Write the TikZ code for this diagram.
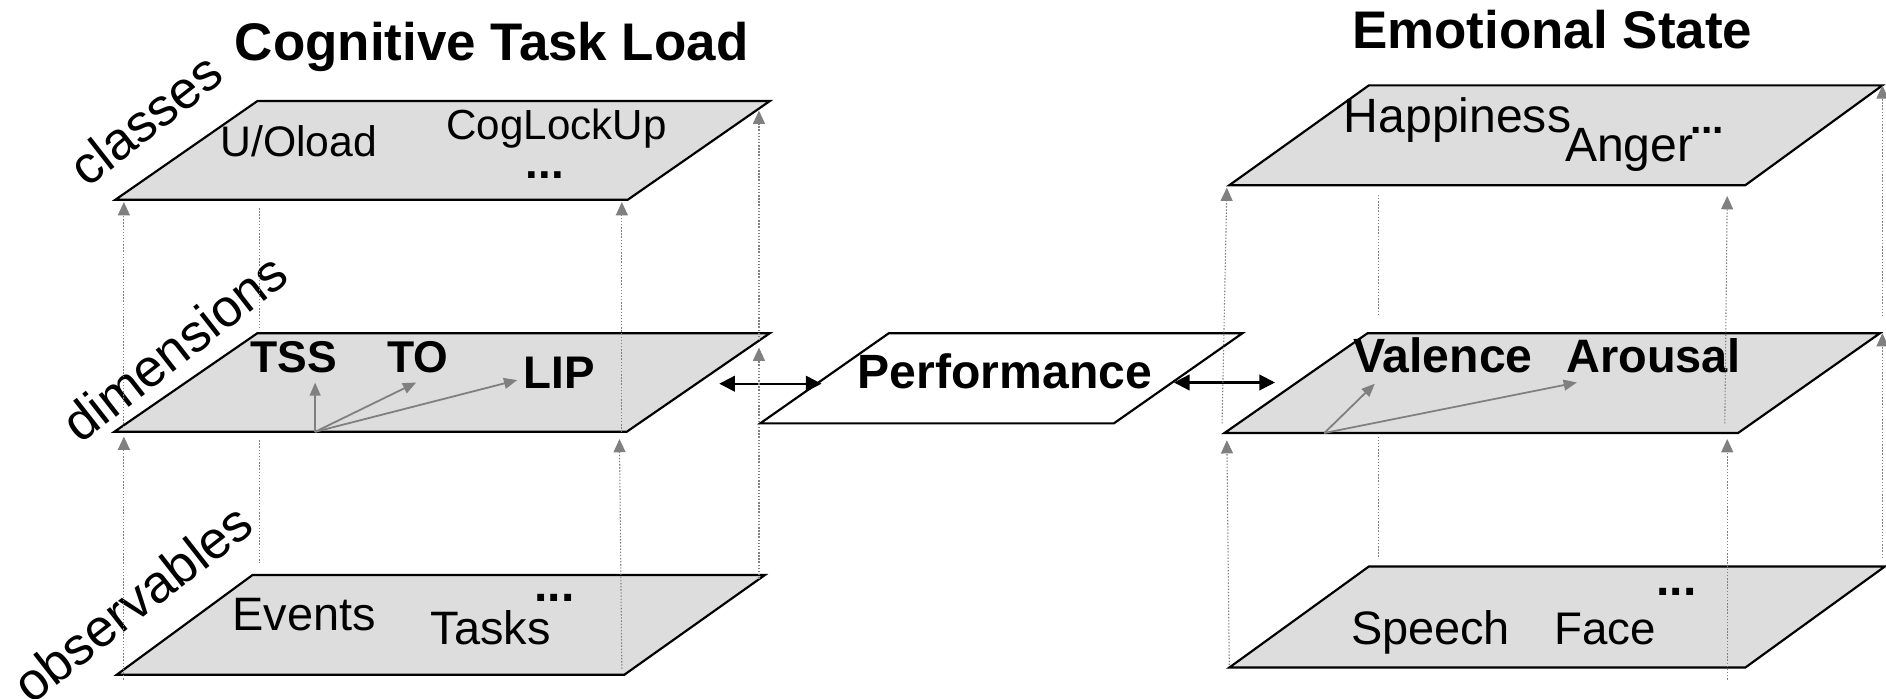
\documentclass[tikz,border=0pt]{standalone}
\usepackage{fontspec}
\setmainfont{Liberation Sans}
\usetikzlibrary{arrows.meta}
\definecolor{planegray}{HTML}{DDDDDD}
\definecolor{linegray}{HTML}{808080}
\tikzset{
  plane/.style={draw=black, fill=planegray, line width=1.8pt, line join=miter},
  perfplane/.style={draw=black, fill=white, line width=1.8pt, line join=miter},
  proj/.style={draw=linegray, line width=0.9pt, dash pattern=on 1.2pt off 1.4pt},
  projarrow/.style={proj, -{Triangle[length=11pt,width=10pt]}},
  vec/.style={draw=linegray, line width=1.5pt, -{Triangle[length=11pt,width=9pt]}},
  biarrow/.style={draw=black, line width=1.8pt, {Triangle[length=13pt,width=13pt]}-{Triangle[length=13pt,width=13pt]}},
  lbl/.style={inner sep=0pt, anchor=base west},
  side/.style={inner sep=0pt, anchor=center, rotate=38, font=\fontsize{44}{46}\selectfont},
}
\newcommand{\fs}[1]{\fontsize{#1}{#1}\selectfont}
\begin{document}
\begin{tikzpicture}[x=1pt,y=-1pt]
\useasboundingbox (0,0) rectangle (1568,581);

% ---------- planes ----------
\draw[plane] (96,166) -- (522,166) -- (640,84) -- (214,84) -- cycle;
\draw[plane] (95,359) -- (521,359) -- (640,277) -- (214,277) -- cycle;
\draw[plane] (97,561) -- (519,561) -- (636,478) -- (210,478) -- cycle;
\draw[perfplane] (632,352) -- (926,352) -- (1033,277) -- (739,277) -- cycle;
\draw[plane] (1022,154) -- (1451,154) -- (1565,71) -- (1138,71) -- cycle;
\draw[plane] (1018,360) -- (1445,360) -- (1563,277) -- (1137,277) -- cycle;
\draw[plane] (1022,555) -- (1451,555) -- (1567,471) -- (1138,471) -- cycle;

% ---------- titles ----------
\node[lbl, font=\bfseries\fs{44}] (ctl) at (195,50) {Cognitive Task Load};
\node[lbl, font=\bfseries\fs{44}] (es) at (1124,40) {Emotional State};

% ---------- side labels ----------
\node[side] (cls) at (121,99) {classes};
\node[side] (dim) at (145,289) {dimensions};
\node[side] (obs) at (110,501) {observables};

% ---------- left stack texts ----------
\node[lbl, font=\fs{35.5}] (uo) at (183,130) {U/Oload};
\node[lbl, font=\fs{35}] (cog) at (371,116) {CogLockUp};
\node[lbl, font=\bfseries\fs{38}] (d1) at (437,148) {...};
\node[lbl, font=\bfseries\fs{37}] (tss) at (208,310) {TSS};
\node[lbl, font=\bfseries\fs{37}] (to) at (322,310) {TO};
\node[lbl, font=\bfseries\fs{38}] (lip) at (435,323) {LIP};
\node[lbl, font=\fs{39}] (ev) at (193,524) {Events};
\node[lbl, font=\fs{39}] (ta) at (358,536) {Tasks};
\node[lbl, font=\bfseries\fs{40}] (d2) at (444,500) {...};

% ---------- performance ----------
\node[lbl, font=\bfseries\fs{40}] (perf) at (713,323) {Performance};

% ---------- right stack texts ----------
\node[lbl, font=\fs{40}] (hap) at (1117,110) {Happiness};
\node[lbl, font=\fs{40}] (ang) at (1301,134) {Anger};
\node[lbl, font=\bfseries\fs{34}] (d3) at (1405,111) {...};
\node[lbl, font=\bfseries\fs{40}] (val) at (1125,310) {Valence};
\node[lbl, font=\bfseries\fs{39}] (aro) at (1302,310) {Arousal};
\node[lbl, font=\fs{39}] (sp) at (1123,536) {Speech};
\node[lbl, font=\fs{38}] (fa) at (1292,536) {Face};
\node[lbl, font=\bfseries\fs{40}] (d4) at (1377,495) {...};

% ---------- vectors ----------
\coordinate (vo) at (262,359);
\coordinate (vtss) at (262,318);
\coordinate (vto) at (346,318);
\coordinate (vlip) at (430,316);
\draw[vec] (vo) -- (vtss);
\draw[vec] (vo) -- (vto);
\draw[vec] (vo) -- (vlip);
\coordinate (wo) at (1101,360);
\coordinate (wval) at (1143,319);
\coordinate (waro) at (1311,318);
\draw[vec] (wo) -- (wval);
\draw[vec] (wo) -- (waro);

% ---------- double arrows ----------
\coordinate (ba1) at (598,319);
\coordinate (ba2) at (683,319);
\coordinate (ba3) at (976,318);
\coordinate (ba4) at (1060,318);
\draw[biarrow] (ba1) -- (ba2);
\draw[biarrow] (ba3) -- (ba4);

% ---------- projection lines, left stack ----------
\coordinate (L1a) at (103,565); \coordinate (L1b) at (103,363);
\coordinate (L2a) at (103,355); \coordinate (L2b) at (103,168);
\coordinate (L3a) at (216,173); \coordinate (L3b) at (216,272);
\coordinate (L4a) at (216,366); \coordinate (L4b) at (216,468);
\coordinate (L5a) at (517,556); \coordinate (L5b) at (515,365);
\coordinate (L6a) at (517,359); \coordinate (L6b) at (517,168);
\coordinate (L7a) at (631,481); \coordinate (L7b) at (631,289);
\coordinate (L8a) at (631,283); \coordinate (L8b) at (631,92);
\draw[projarrow] (L1a) -- (L1b);
\draw[projarrow] (L2a) -- (L2b);
\draw[proj] (L3a) -- (L3b);
\draw[proj] (L4a) -- (L4b);
\draw[projarrow] (L5a) -- (L5b);
\draw[projarrow] (L6a) -- (L6b);
\draw[projarrow] (L7a) -- (L7b);
\draw[projarrow] (L8a) -- (L8b);

% ---------- projection lines, right stack ----------
\coordinate (R1a) at (1022,553); \coordinate (R1b) at (1020,366);
\coordinate (R2a) at (1016,352); \coordinate (R2b) at (1020,156);
\coordinate (R3a) at (1146,162); \coordinate (R3b) at (1146,263);
\coordinate (R4a) at (1146,363); \coordinate (R4b) at (1146,464);
\coordinate (R5a) at (1436,565); \coordinate (R5b) at (1436,365);
\coordinate (R6a) at (1434,352); \coordinate (R6b) at (1436,163);
\coordinate (R7a) at (1565,464); \coordinate (R7b) at (1565,277);
\coordinate (R8a) at (1565,263); \coordinate (R8b) at (1565,71);
\draw[projarrow] (R1a) -- (R1b);
\draw[projarrow] (R2a) -- (R2b);
\draw[proj] (R3a) -- (R3b);
\draw[proj] (R4a) -- (R4b);
\draw[projarrow] (R5a) -- (R5b);
\draw[projarrow] (R6a) -- (R6b);
\draw[projarrow] (R7a) -- (R7b);
\draw[projarrow] (R8a) -- (R8b);
\end{tikzpicture}
\end{document}
